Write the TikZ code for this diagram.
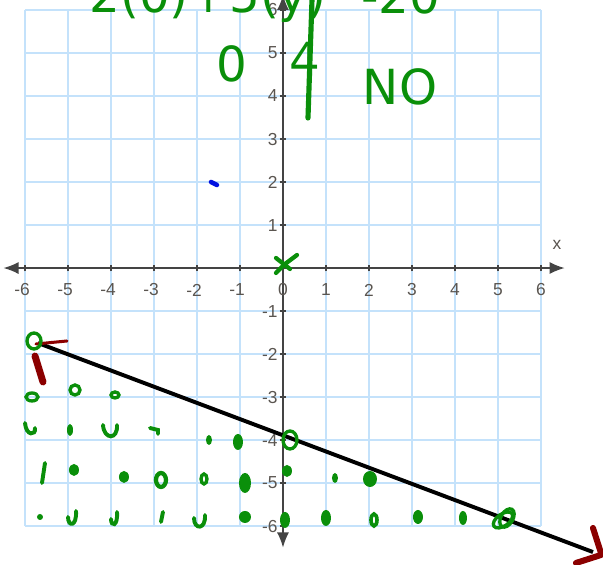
\documentclass[tikz,border=0pt]{standalone}
\usepackage{fontspec}
\setmainfont{Liberation Sans}
\newfontfamily\handfont{DejaVu Sans}
\usetikzlibrary{arrows.meta}
\definecolor{gridblue}{HTML}{C4E2FB}
\definecolor{axisgray}{HTML}{444444}
\definecolor{labelgray}{HTML}{5A5550}
\definecolor{pen}{HTML}{0A8F0A}
\definecolor{penred}{HTML}{8B0000}
\definecolor{penblue}{HTML}{0010E0}

\begin{document}
\begin{tikzpicture}[
  xlab/.style={font=\fontsize{11.5}{13}\selectfont, text=labelgray, inner sep=0pt},
  ylab/.style={xlab, anchor=east},
  hand/.style={font=\handfont\fontsize{32}{36}\selectfont, text=pen, inner sep=0pt, anchor=base},
  blob/.style={fill=pen},
  curl/.style={draw=pen, line width=2.6pt, line cap=round},
  ring/.style={draw=pen, line width=2.2pt},
  redink/.style={draw=penred, line cap=round},
  axis/.style={axisgray, line width=1pt, {Latex[length=10pt,width=8pt]}-{Latex[length=10pt,width=8pt]}}
]
\useasboundingbox (-6.581,-6.884) rectangle (7.442,6.233);
\clip (-6.581,-6.884) rectangle (7.442,6.233);

% grid
\draw[gridblue, line width=1pt] (-6,-6) grid (6,6);

% axes
\draw[axis] (-6.5,0) -- (6.55,0);
\draw[axis] (0,-6.5) -- (0,6.35);
\foreach \i in {-6,...,6} {
  \draw[axisgray, line width=0.8pt] (\i,-0.08) -- (\i,0.08);
  \draw[axisgray, line width=0.8pt] (-0.08,\i) -- (0.08,\i);
}
\foreach \i in {1,...,6} {
  \node[xlab] (xp\i) at (\i,-0.51) {\i};
  \node[xlab] (xm\i) at (-\i,-0.51) {\llap{-}\i};
  \node[ylab] (yp\i) at (-0.12,\i) {\i};
  \node[ylab] (ym\i) at (-0.12,-\i) {-\i};
}
\node[xlab] (zero) at (0,-0.51) {0};
\node[xlab] (xname) at (6.37,0.53) {x};

% graphed line
\draw[line width=2.6pt] (-5.698,-1.744) -- (7.209,-6.605);

% ink on top, in screen pixels
\begin{scope}[x=0.023256cm, y=-0.023256cm, shift={(-6.581cm,6.233cm)}]
  % written work
  \node[hand] (eqleft) at (208,13) {2(0)+5(y)};
  \node[hand] (eqright) at (401,14) {-20};
  \node[hand] (tx) at (232,82) {0};
  \node[hand] (ty) at (305,78) {4};
  \node[hand] (answer) at (400,105) {NO};
  \draw[pen, line width=3.4pt, line cap=round] (312,0) -- (308,118);
  \draw[pen, line width=2.8pt, line cap=round] (276,258) -- (290,269);
  \draw[pen, line width=2.8pt, line cap=round] (276,273) -- (285,264) -- (297,255);

  % blue dot
  \draw[penblue, line width=3pt, line cap=round] (211,182) -- (217,185);

  % arrow marks
  \draw[redink, line width=2pt] (36,344) -- (67,341);
  \draw[redink, line width=4.6pt] (35,356) -- (43,382);
  \draw[redink, line width=4pt] (593,528) -- (601,553);
  \draw[redink, line width=4pt] (576,563) -- (601,555);

  % circled points
  \draw[ring] (34,341) ellipse [x radius=7, y radius=8];
  \draw[ring] (290,440) ellipse [x radius=7, y radius=9];
  \draw[ring, rotate around={35:(503,520)}] (503,520) ellipse [x radius=11, y radius=6];
  \draw[ring, rotate around={60:(507,518)}] (507,518) ellipse [x radius=10, y radius=6];

  % test points below the line
  \draw[ring] (32,397) ellipse [x radius=6, y radius=4];
  \draw[ring] (75,390) ellipse [x radius=5, y radius=5];
  \draw[ring] (115,395) ellipse [x radius=4, y radius=3];
  \draw[curl] (25,423) .. controls (26,436) and (36,436) .. (35,428);
  \fill[blob] (70,430) ellipse [x radius=3, y radius=6];
  \draw[curl] (103,425) .. controls (104,440) and (118,440) .. (117,425);
  \draw[curl] (150,428) -- (158,430) -- (158,434);
  \fill[blob] (209,440) ellipse [x radius=3, y radius=5];
  \fill[blob] (238,442) ellipse [x radius=5, y radius=8];
  \draw[curl] (45,463) -- (42,483);
  \fill[blob] (74,470) ellipse [x radius=5, y radius=6];
  \fill[blob] (124,477) ellipse [x radius=5, y radius=6];
  \draw[ring, line width=2.8pt] (161,480) ellipse [x radius=5, y radius=7];
  \draw[ring] (204,479) ellipse [x radius=3, y radius=5];
  \fill[blob] (245,483) ellipse [x radius=6, y radius=10];
  \fill[blob] (287,471) ellipse [x radius=5, y radius=6];
  \fill[blob] (335,478) ellipse [x radius=3, y radius=5];
  \fill[blob] (370,479) ellipse [x radius=7, y radius=8];
  \fill[blob] (40,517) ellipse [x radius=3, y radius=3];
  \draw[curl] (68,517) .. controls (68,527) and (77,527) .. (76,511);
  \draw[curl] (111,519) .. controls (111,527) and (118,527) .. (117,512);
  \draw[curl] (163,512) -- (161,522);
  \draw[curl] (194,518) .. controls (194,530) and (206,530) .. (205,515);
  \fill[blob] (245,517) ellipse [x radius=6, y radius=6];
  \fill[blob] (285,520) ellipse [x radius=5, y radius=8];
  \fill[blob] (326,518) ellipse [x radius=5, y radius=8];
  \draw[ring, line width=2.4pt] (374,520) ellipse [x radius=3, y radius=6];
  \fill[blob] (418,517) ellipse [x radius=5, y radius=7];
  \fill[blob] (463,518) ellipse [x radius=4, y radius=7];
\end{scope}
\end{tikzpicture}
\end{document}
